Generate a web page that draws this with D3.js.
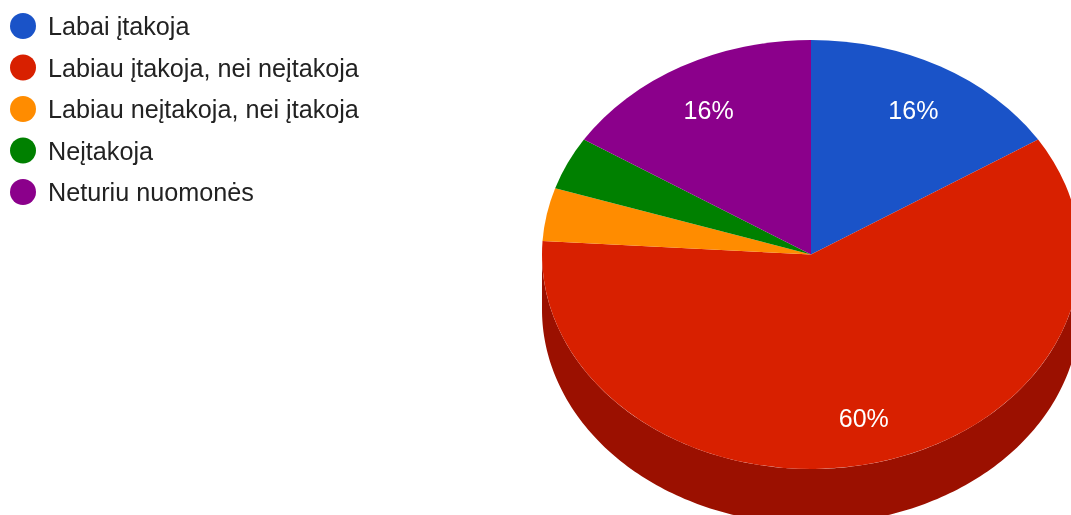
<!DOCTYPE html>
<html><head><meta charset="utf-8">
<script src="https://cdnjs.cloudflare.com/ajax/libs/d3/7.8.5/d3.min.js"></script>
<style>html,body{margin:0;padding:0;background:#fff;overflow:hidden}svg{display:block;filter:blur(0.45px)}
text{font-family:"Liberation Sans",Arial,sans-serif}</style></head><body>
<svg id="c" width="1071" height="515"></svg>
<script>
const categories = ["Labai įtakoja","Labiau įtakoja, nei neįtakoja","Labiau neįtakoja, nei įtakoja","Neįtakoja","Neturiu nuomonės"];
const values = [16,60,4,4,16];
const colors = ["#1a53c8","#d82000","#ff8c00","#008000","#8b008b"];
const sideColors = ["#10337a","#9b1000","#a85c00","#005000","#5a005a"];

const cx=811,cy=254.5,rx=269,ry=214.5,depth=55;
const svg=d3.select("#c");
const slices=d3.pie().sort(null).value(d=>d)(values);

// extruded side wall: only the front half of the ellipse is visible
const wall=d3.area()
  .x(a=>cx+rx*Math.sin(a))
  .y0(a=>cy-ry*Math.cos(a))
  .y1(a=>cy-ry*Math.cos(a)+depth);
slices.forEach((s,i)=>{
  const a0=Math.max(s.startAngle,Math.PI/2), a1=Math.min(s.endAngle,Math.PI*1.5);
  if(a1<=a0) return;
  svg.append("path").attr("fill",sideColors[i]).attr("d",wall(d3.range(0,181).map(k=>a0+(a1-a0)*k/180)));
});

// top face
const arc=d3.arc().innerRadius(0).outerRadius(rx);
const face=svg.append("g").attr("transform",`translate(${cx},${cy}) scale(1,${ry/rx})`);
face.selectAll("path").data(slices).join("path")
  .attr("fill",(d,i)=>colors[i]).attr("d",arc);

// value labels
const labelArc=d3.arc().innerRadius(rx*0.79).outerRadius(rx*0.79);
svg.append("g").selectAll("text").data(slices.filter(d=>d.value>=5)).join("text")
  .attr("x",d=>cx+labelArc.centroid(d)[0])
  .attr("y",d=>cy+labelArc.centroid(d)[1]*(ry/rx)*(0.7775/0.79)+10.5)
  .attr("text-anchor","middle").attr("font-size",25).attr("fill","#fff")
  .text(d=>d.value+"%");

// legend
const ly=d3.scalePoint().domain(categories).range([26,192]);
const lg=svg.append("g").selectAll("g").data(categories).join("g")
  .attr("transform",d=>`translate(0,${ly(d)})`);
lg.append("circle").attr("cx",23).attr("r",13).attr("fill",(d,i)=>colors[i]);
lg.append("text").attr("x",48).attr("y",9).attr("font-size",25.2).attr("fill","#222").text(d=>d);
</script></body></html>
